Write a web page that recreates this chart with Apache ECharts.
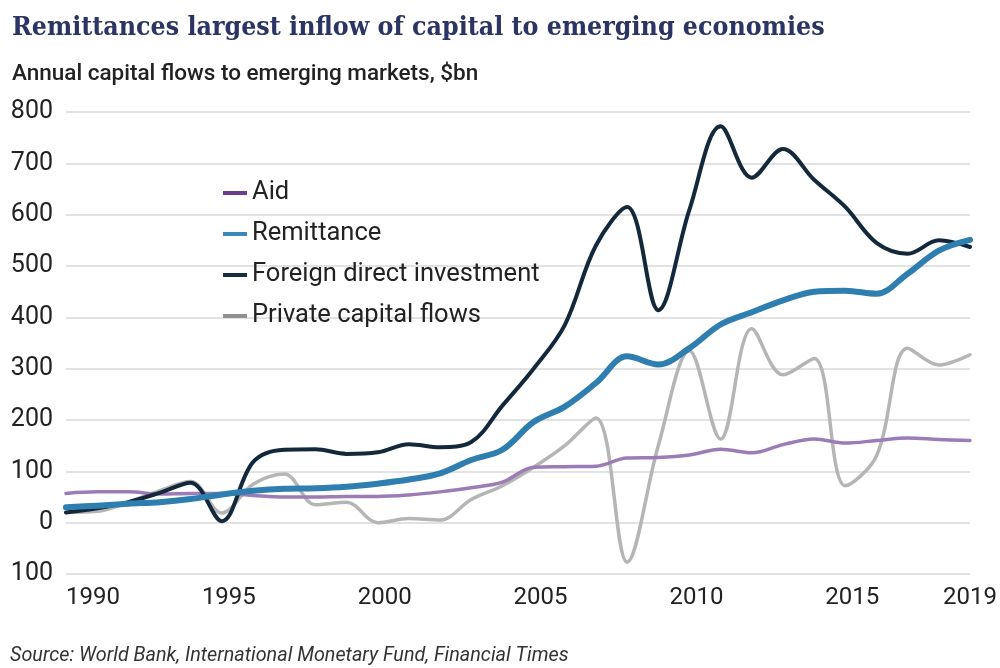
<!DOCTYPE html>
<html>
<head>
<meta charset="utf-8">
<script src="https://cdn.jsdelivr.net/npm/echarts@6/dist/echarts.min.js"></script>
<style>
  html, body { margin: 0; padding: 0; background: #ffffff; }
  #chart { width: 1000px; height: 668px; }
</style>
</head>
<body>
<div id="chart"></div>
<script>
// Annual capital flows to emerging markets, $bn
const years = [1990, 1991, 1992, 1993, 1994, 1995, 1996, 1997, 1998, 1999,
               2000, 2001, 2002, 2003, 2004, 2005, 2006, 2007, 2008, 2009,
               2010, 2011, 2012, 2013, 2014, 2015, 2016, 2017, 2018, 2019];

const aid = [57, 60, 60, 56, 57, 57, 53, 50, 50, 51,
             51, 54, 60, 68, 79, 108, 109, 110, 126, 127,
             132, 143, 136, 152, 163, 155, 160, 165, 162, 160];

const remittance = [30, 33, 37, 40, 46, 55, 62, 66, 67, 70,
                    76, 84, 96, 122, 142, 196, 226, 272, 324, 308,
                    340, 386, 410, 433, 450, 452, 446, 485, 530, 551];

const fdi = [20, 28, 40, 58, 78, 3, 118, 142, 143, 134,
             137, 153, 147, 157, 228, 300, 385, 540, 615, 414,
             610, 772, 672, 728, 668, 615, 545, 524, 550, 537];

const privateFlows = [20, 22, 40, 62, 80, 19, 75, 95, 35, 40,
                      0, 8, 5, 45, 72, 108, 150, 204, -77, 150,
                      335, 163, 378, 288, 320, 72, 130, 340, 307, 327];

// Year labels shown under the axis
const yearTicks = [1990, 1995, 2000, 2005, 2010, 2015, 2019];

const seriesNames = ['Aid', 'Remittance', 'Foreign direct investment', 'Private capital flows'];

const titleText = 'Remittances largest inflow of capital to emerging economies';
const subtitleText = 'Annual capital flows to emerging markets, $bn';
const sourceText = 'Source: World Bank, International Monetary Fund, Financial Times';

const pairs = (vals) => years.map((y, i) => [y, vals[i]]);

const chart = echarts.init(document.getElementById('chart'), null, { renderer: 'canvas' });

const FONT = 'Roboto, "Noto Sans", sans-serif';

function lineSeries(name, vals, color, width, z) {
  return {
    name: name,
    type: 'line',
    data: pairs(vals),
    smooth: 0.35,
    showSymbol: false,
    symbol: 'none',
    z: z,
    lineStyle: { color: color, width: width, cap: 'round', join: 'round' },
    itemStyle: { color: color },
    emphasis: { disabled: true }
  };
}

const firstYear = yearTicks[0];
const lastYear = yearTicks[yearTicks.length - 1];

chart.setOption({
  backgroundColor: '#ffffff',
  animation: false,
  title: [{
    text: titleText,
    left: 7,
    top: 10,
    textStyle: {
      fontFamily: '"DejaVu Serif Condensed", "DejaVu Serif", serif',
      fontWeight: 'bold',
      fontSize: 26.5,
      color: '#2b3463'
    }
  }, {
    text: subtitleText,
    left: 7,
    top: 58,
    textStyle: {
      fontFamily: FONT,
      fontWeight: 500,
      fontSize: 22.5,
      color: '#222222'
    }
  }],
  legend: {
    orient: 'vertical',
    left: 223,
    top: 180,
    padding: 0,
    itemWidth: 24,
    itemHeight: 4,
    itemGap: 15,
    icon: 'rect',
    textStyle: { fontFamily: FONT, fontSize: 25.5, color: '#222222', lineHeight: 25.5 },
    data: [
      { name: seriesNames[0], itemStyle: { color: '#6a3d8f' } },
      { name: seriesNames[1], itemStyle: { color: '#3a87b9' } },
      { name: seriesNames[2], itemStyle: { color: '#17303f' } },
      { name: seriesNames[3], itemStyle: { color: '#8f8f8f' } }
    ]
  },
  grid: { left: 66, right: 30, top: 112, bottom: 94, containLabel: false },
  xAxis: {
    type: 'value',
    min: firstYear,
    max: lastYear,
    axisLine: { show: false },
    axisTick: { show: false },
    splitLine: { show: false },
    axisLabel: {
      customValues: yearTicks,
      align: 'center',
      alignMinLabel: 'left',
      alignMaxLabel: 'center',
      showMinLabel: true,
      showMaxLabel: true,
      margin: 12,
      fontFamily: FONT,
      fontSize: 24,
      color: '#222222',
      formatter: (v) => (v === firstYear || v === lastYear) ? String(v) : '{mid|' + v + '}',
      rich: {
        mid: { padding: [0, 0, 0, 14], fontFamily: FONT, fontSize: 24, color: '#222222' }
      }
    }
  },
  yAxis: {
    type: 'value',
    min: -100,
    max: 800,
    interval: 100,
    axisLine: { show: false },
    axisTick: { show: false },
    splitLine: { lineStyle: { color: '#d9d9d9', width: 1.5 } },
    axisLabel: {
      margin: 13,
      fontFamily: FONT,
      fontSize: 25,
      color: '#222222',
      formatter: (v) => String(Math.abs(v))
    }
  },
  series: [
    lineSeries(seriesNames[0], aid, '#9c7cb6', 3.5, 3),
    lineSeries(seriesNames[1], remittance, '#2f7eb0', 6, 5),
    lineSeries(seriesNames[2], fdi, '#13293b', 4, 4),
    lineSeries(seriesNames[3], privateFlows, '#b5b5b5', 3.5, 2)
  ],
  graphic: [{
    type: 'text',
    left: 10,
    top: 646,
    style: {
      text: sourceText,
      fontFamily: FONT,
      fontStyle: 'italic',
      fontSize: 19.8,
      fill: '#333333'
    }
  }]
});
</script>
</body>
</html>
